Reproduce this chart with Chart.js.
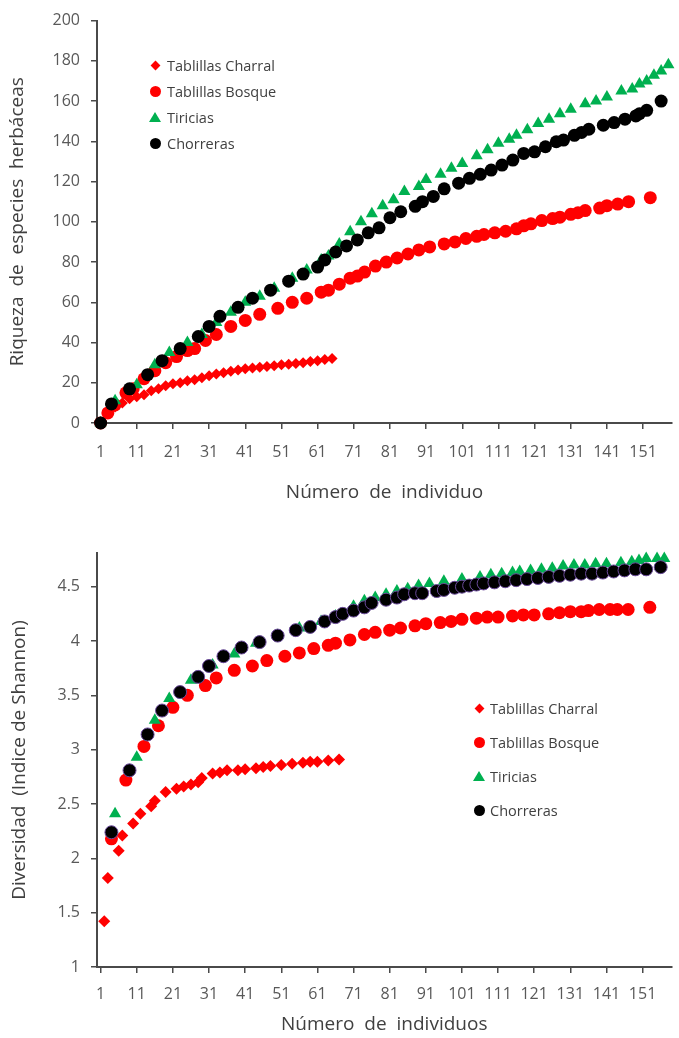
<!DOCTYPE html>
<html>
<head>
<meta charset="utf-8">
<script src="https://cdn.jsdelivr.net/npm/chart.js@4.4.1/dist/chart.umd.min.js"></script>
<style>
  body { margin: 0; background: #fff; font-family: "Open Sans", sans-serif; }
  #page { position: relative; width: 679px; height: 1038px; overflow: hidden; }
  canvas { position: absolute; left: 0; }
  .legend { position: absolute; color: #404040; font-size: 14.5px; }
  .legend .row { display: flex; align-items: center; white-space: nowrap; }
  .mk { width: 12px; height: 12px; display: flex; align-items: center; justify-content: center; }
  .mk .diamond { width: 7px; height: 7px; background: #ff0000; transform: rotate(45deg); }
  .mk .circle { width: 11px; height: 11px; border-radius: 50%; }
  .mk .triangle { width: 0; height: 0; border-left: 6px solid transparent; border-right: 6px solid transparent; border-bottom: 10px solid #00b050; }
</style>
</head>
<body>
<div id="page">
  <canvas id="riqueza" width="679" height="520" style="top:0"></canvas>
  <canvas id="shannon" width="679" height="518" style="top:520px"></canvas>
  <div id="legend1" class="legend" style="left:149px; top:52px"></div>
  <div id="legend2" class="legend" style="left:473px; top:691px"></div>
</div>
<script>
const seriesNames = ['Tablillas Charral', 'Tablillas Bosque', 'Tiricias', 'Chorreras'];
const seriesColors = ['#ff0000', '#ff0000', '#00b050', '#000000'];
const xTicks = [1, 11, 21, 31, 41, 51, 61, 71, 81, 91, 101, 111, 121, 131, 141, 151];
const riquezaTicks = [0, 20, 40, 60, 80, 100, 120, 140, 160, 180, 200];
const shannonTicks = [1, 1.5, 2, 2.5, 3, 3.5, 4, 4.5];

// [individuo, riqueza]
const riqCharral = [[1,0],[3,5],[5,8],[7,10],[9,12],[11,13],[13,14],[15,16],[17,17],[19,18.5],[21,19.5],[23,20],[25,21],[27,21.5],[29,22.5],[31,23.5],[33,24.3],[35,25],[37,25.7],[39,26.3],[41,27],[43,27.3],[45,27.7],[47,28.1],[49,28.5],[51,28.9],[53,29.2],[55,29.6],[57,30],[59,30.6],[61,31],[63,31.5],[65,32]];
const riqBosque = [[1,0],[3,5],[5,9],[8,15],[10,17],[13,22],[16,26],[19,30],[22,33],[25,36],[27,37],[30,41],[33,44],[37,48],[41,51],[45,54],[50,57],[54,60],[58,62],[62,65],[64,66],[67,69],[70,72],[72,73],[74,75],[77,78],[80,80],[83,82],[86,84],[89,86],[92,87.5],[96,89],[99,90],[102,91.7],[105,92.8],[107,93.7],[110,94.5],[113,95.3],[116,96.5],[118,98],[120,99],[123,100.6],[126,101.6],[128,102.3],[131,103.7],[133,104.5],[135,105.6],[139,106.8],[141,108],[144,108.8],[147,110],[153,112]];
const riqTiricias = [[1,0],[5,11],[11,19],[16,29],[20,35],[25,40],[29,44],[33,50],[37,55],[41,60],[45,63],[49,67],[54,72],[58,76],[62,81],[64,83],[67,89],[70,95],[73,100],[76,104],[79,108],[82,111],[85,115],[89,117.5],[91,121],[95,123.6],[98,126.6],[101,129],[105,132.8],[108,135.8],[111,139],[114,141],[116,143],[119,145.7],[122,148.8],[125,151],[128,153.7],[131,156],[135,158.7],[138,160],[141,162],[145,165],[148,166],[150,168.5],[152,170],[154,172.8],[156,175],[158,178]];
const riqChorreras = [[1,0],[4,9.5],[9,17],[14,24],[18,31],[23,37],[28,43],[31,48],[34,53],[39,57.5],[43,62],[48,66],[53,70.5],[57,74],[61,77.5],[63,81],[66,85],[69,88],[72,91],[75,94.5],[78,97],[81,102],[84,105],[88,107.7],[90,110],[93,112.6],[96,116.4],[100,119.2],[103,121.6],[106,123.6],[109,125.7],[112,128.2],[115,130.7],[118,134],[121,134.8],[124,137.3],[127,139.8],[129,140.6],[132,143],[134,144.4],[136,146],[140,148],[143,149.3],[146,151],[149,152.6],[150,153.7],[152,155.4],[156,160]];

// [individuo, indice de Shannon]
const shaCharral = [[2,1.42],[3,1.82],[6,2.07],[7,2.21],[10,2.32],[12,2.41],[15,2.48],[16,2.53],[19,2.61],[22,2.64],[24,2.66],[26,2.68],[28,2.7],[29,2.74],[32,2.78],[34,2.79],[36,2.81],[39,2.81],[41,2.82],[44,2.83],[46,2.84],[48,2.85],[51,2.86],[54,2.87],[57,2.88],[59,2.89],[61,2.89],[64,2.9],[67,2.91]];
const shaBosque = [[4,2.18],[8,2.72],[13,3.03],[17,3.22],[21,3.39],[25,3.5],[30,3.59],[33,3.66],[38,3.73],[43,3.77],[47,3.82],[52,3.86],[56,3.89],[60,3.93],[64,3.96],[66,3.98],[70,4.01],[74,4.06],[77,4.08],[81,4.1],[84,4.12],[88,4.14],[91,4.16],[95,4.17],[98,4.18],[101,4.2],[105,4.21],[108,4.22],[111,4.22],[115,4.23],[118,4.24],[121,4.24],[125,4.25],[128,4.26],[131,4.27],[134,4.27],[136,4.28],[139,4.29],[142,4.29],[144,4.29],[147,4.29],[153,4.31]];
const shaTiricias = [[5,2.41],[11,2.93],[16,3.27],[20,3.47],[26,3.64],[32,3.78],[38,3.88],[44,3.98],[50,4.05],[56,4.12],[62,4.18],[66,4.23],[71,4.32],[74,4.37],[77,4.4],[80,4.43],[83,4.46],[86,4.48],[89,4.51],[92,4.53],[96,4.55],[101,4.57],[106,4.59],[109,4.61],[112,4.62],[115,4.63],[117,4.64],[120,4.65],[123,4.66],[126,4.67],[129,4.69],[132,4.7],[135,4.7],[138,4.71],[141,4.71],[145,4.72],[148,4.73],[150,4.74],[152,4.76],[155,4.76],[157,4.76]];
const shaChorreras = [[4,2.24],[9,2.81],[14,3.14],[18,3.36],[23,3.53],[28,3.67],[31,3.77],[35,3.86],[40,3.94],[45,3.99],[50,4.05],[55,4.1],[59,4.13],[63,4.18],[66,4.22],[68,4.25],[71,4.28],[74,4.31],[76,4.35],[80,4.38],[83,4.4],[85,4.43],[88,4.44],[90,4.44],[94,4.46],[96,4.47],[99,4.49],[101,4.5],[103,4.51],[105,4.52],[107,4.53],[110,4.54],[113,4.55],[116,4.56],[119,4.57],[122,4.58],[125,4.59],[128,4.6],[131,4.61],[134,4.62],[137,4.62],[140,4.63],[143,4.64],[146,4.65],[149,4.66],[152,4.66],[156,4.68]];

const axisColor = '#4a4a4a';
const tickColor = '#595959';
const titleColor = '#404040';
const fontFamily = '"Open Sans", sans-serif';

function toPoints(pairs) {
    return pairs.map(p => ({x: p[0], y: p[1]}));
}

function makeDatasets(series, big) {
    return [
        {label: seriesNames[0], data: toPoints(series[0]), pointStyle: 'rectRot', pointRadius: big ? 6 : 5.5, backgroundColor: '#ff0000', borderColor: '#ff0000', borderWidth: 0, order: 3},
        {label: seriesNames[1], data: toPoints(series[1]), pointStyle: 'circle', pointRadius: 6.5, backgroundColor: '#ff0000', borderColor: '#ff0000', borderWidth: 0, order: 2},
        {label: seriesNames[2], data: toPoints(series[2]), pointStyle: 'triangle', pointRadius: 7, backgroundColor: '#00b050', borderColor: '#00b050', borderWidth: 0, order: 1},
        {label: seriesNames[3], data: toPoints(series[3]), pointStyle: 'circle', pointRadius: 6.5, backgroundColor: '#000000', borderColor: big ? '#6a4a9a' : '#000000', borderWidth: big ? 1 : 0, order: 0}
    ].map(d => Object.assign(d, {showLine: false, clip: false, pointHoverRadius: d.pointRadius}));
}

function makeOptions(o) {
    return {
        responsive: false,
        animation: false,
        layout: {padding: {top: o.padTop, left: 0, right: 0, bottom: 0}},
        plugins: {legend: {display: false}, tooltip: {enabled: false}},
        scales: {
            x: {
                type: 'linear', min: 0, max: 159,
                afterBuildTicks: s => { s.ticks = xTicks.map(v => ({value: v})); },
                afterFit: s => { s.height = o.xHeight; },
                ticks: {autoSkip: false, maxRotation: 0, padding: o.xPad, color: tickColor, font: {family: fontFamily, size: 16}, callback: v => String(v)},
                grid: {drawOnChartArea: false, tickLength: 6, color: axisColor, lineWidth: 1.5},
                border: {color: axisColor, width: 2},
                title: {display: true, text: o.xTitle, color: titleColor, font: {family: fontFamily, size: 19}, padding: {top: 0, bottom: o.xTitlePad}}
            },
            y: {
                min: o.yMin, max: o.yMax,
                afterBuildTicks: s => { s.ticks = o.yTicks.map(v => ({value: v})); },
                afterFit: s => { s.width = 97; },
                ticks: {padding: 11, color: tickColor, font: {family: fontFamily, size: 16}, callback: v => String(v)},
                grid: {drawOnChartArea: false, tickLength: 6, color: axisColor, lineWidth: 1.5},
                border: {color: axisColor, width: 2},
                title: {display: true, text: o.yTitle, color: titleColor, font: {family: fontFamily, size: 19}, padding: {top: o.yTitlePad, bottom: 0}}
            }
        }
    };
}

new Chart(document.getElementById('riqueza'), {
    type: 'scatter',
    data: {datasets: makeDatasets([riqCharral, riqBosque, riqTiricias, riqChorreras], false)},
    options: makeOptions({
        padTop: 18, xHeight: 97, xPad: 14, xTitlePad: 16,
        yMin: 0, yMax: 200, yTicks: riquezaTicks, yTitlePad: 6,
        xTitle: 'Número  de  individuo',
        yTitle: 'Riqueza  de  especies  herbáceas'
    })
});

new Chart(document.getElementById('shannon'), {
    type: 'scatter',
    data: {datasets: makeDatasets([shaCharral, shaBosque, shaTiricias, shaChorreras], true)},
    options: makeOptions({
        padTop: 33, xHeight: 71, xPad: 12, xTitlePad: 2,
        yMin: 1, yMax: 4.81, yTicks: shannonTicks, yTitlePad: 8,
        xTitle: 'Número  de  individuos',
        yTitle: 'Diversidad  (Indice de Shannon)'
    })
});

// legends as html
const shapes = ['diamond', 'circle', 'triangle', 'circle'];
function buildLegend(id, rowHeight, gap) {
    const el = document.getElementById(id);
    seriesNames.forEach((name, i) => {
        const row = document.createElement('div');
        row.className = 'row';
        row.style.height = rowHeight + 'px';
        const mk = document.createElement('span');
        mk.className = 'mk';
        mk.style.marginRight = gap + 'px';
        const shape = document.createElement('span');
        shape.className = shapes[i];
        if (shapes[i] === 'circle') shape.style.background = seriesColors[i];
        mk.appendChild(shape);
        const txt = document.createElement('span');
        txt.textContent = name;
        row.appendChild(mk);
        row.appendChild(txt);
        el.appendChild(row);
    });
}
buildLegend('legend1', 26, 6);
buildLegend('legend2', 34, 5);
</script>
</body>
</html>
